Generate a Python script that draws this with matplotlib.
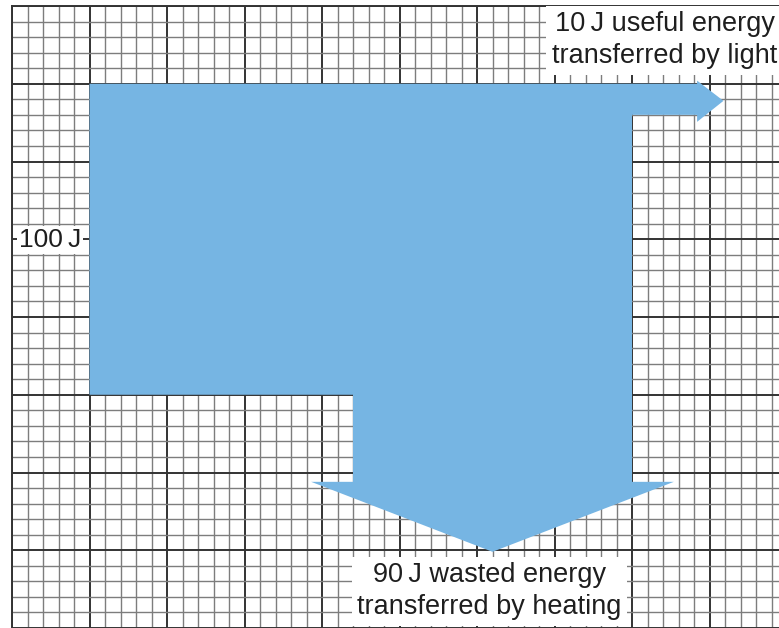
import numpy as np
import matplotlib.pyplot as plt
from matplotlib.patches import Polygon

# Energy values (J)
energy_in = 100
energy_useful = 10
energy_wasted = 90
joules_per_square = 5

labels = {
    'in': '100\u2009J',
    'useful': '10\u2009J useful energy\ntransferred by light',
    'wasted': '90\u2009J wasted energy\ntransferred by heating',
}

plt.rcParams['font.family'] = ['Liberation Sans', 'DejaVu Sans']

W, H = 779, 628
fig = plt.figure(figsize=(W / 100, H / 100), dpi=100)
ax = fig.add_axes([12 / W, 0, 1 - 12 / W, 1 - 6 / H])

# Graph paper: one small square per unit, bold line every 5
ax.set_xlim(0, (W - 12) / 15.5)
ax.set_ylim((H - 6) / 15.58, 0)
ax.set_xticks(np.arange(0, 50, 5))
ax.set_yticks(np.arange(0, 41, 5))
ax.set_xticks(np.arange(0, 50, 1), minor=True)
ax.set_yticks(np.arange(0, 41, 1), minor=True)
ax.grid(which='minor', color='#7d7d7d', lw=1.0)
ax.grid(which='major', color='#333333', lw=1.4)
ax.tick_params(which='both', length=0, labelbottom=False, labelleft=False)
for s in ['right', 'bottom']:
    ax.spines[s].set_visible(False)
for s in ['left', 'top']:
    ax.spines[s].set_color('#333333')
    ax.spines[s].set_linewidth(1.4)
ax.set_axisbelow(True)

# Sankey shape (widths from energies)
x0, y0 = 5, 5
w_in = energy_in / joules_per_square
w_use = energy_useful / joules_per_square
w_waste = energy_wasted / joules_per_square
right = 40
split_x = right - w_waste
body_bottom = y0 + w_in
light_base, light_tip = 44.2, 45.9
heat_base, heat_tip = 30.6, 35.1
heat_half = 11.7
cx = split_x + w_waste / 2

pts = [
    (x0, y0), (light_base, y0), (light_base, y0 - 0.2),
    (light_tip, y0 + w_use / 2 + 0.1), (light_base, y0 + w_use + 0.45),
    (light_base, y0 + w_use), (right, y0 + w_use), (right, heat_base),
    (cx + heat_half, heat_base), (cx, heat_tip), (cx - heat_half, heat_base),
    (split_x, heat_base), (split_x, body_bottom), (x0, body_bottom),
]
ax.add_patch(Polygon(pts, closed=True, facecolor='#76b5e3', edgecolor='none', zorder=2))

box = dict(facecolor='white', edgecolor='none', pad=4)
ax.text(2.45, 15.05, labels['in'], fontsize=19, ha='center', va='center',
        color='#1e1e1e', bbox=dict(facecolor='white', edgecolor='none', pad=1.5),
        zorder=3)
ax.text(42.1, 2.2, labels['useful'], fontsize=19.5, ha='center', va='center',
        color='#1e1e1e', linespacing=1.3, bbox=box, zorder=3)
ax.text(30.8, 37.65, labels['wasted'], fontsize=19.5, ha='center', va='center',
        color='#1e1e1e', linespacing=1.3, bbox=box, zorder=3)

fig.savefig('out.png', dpi=100)
